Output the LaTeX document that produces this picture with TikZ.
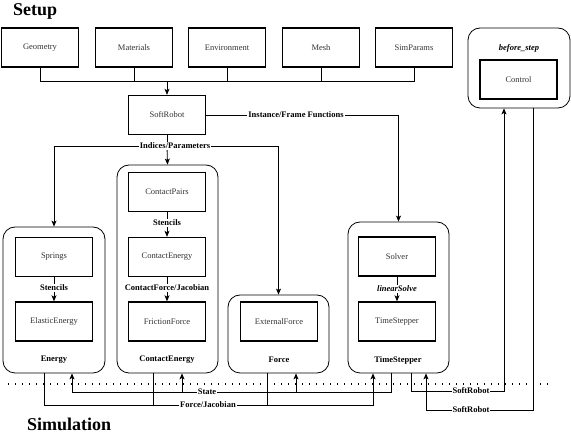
\documentclass[tikz,border=0pt]{standalone}
\usepackage{fontspec}
\setmainfont{Liberation Serif}
\usetikzlibrary{arrows.meta,positioning,calc}

\tikzset{
  block/.style={draw, line width=1.4pt, minimum width=77pt, minimum height=39pt, inner sep=0pt, text=black!80, font=\fontsize{8.5}{10}\selectfont},
  frame/.style={draw, line width=0.8pt, rounded corners=12pt, inner sep=0pt},
  tag/.style={font=\fontsize{8.5}{10}\selectfont\bfseries, inner sep=1pt},
  wire/.style={line width=0.8pt},
  title/.style={font=\fontsize{18}{20}\selectfont\bfseries, anchor=base west, inner sep=0pt},
}

\begin{document}
\begin{tikzpicture}[x=1pt, y=-1pt, >={Stealth[length=6pt,width=5pt,inset=1.5pt]}]
\useasboundingbox (0,0) rectangle (571,435);

% titles
\node[title] (setup) at (13,16) {Setup};
\node[title] (sim) at (27,431) {Simulation};

% setup row
\node[block] (geo) at (40,47.5) {Geometry};
\node[block] (mat) at (134,47.5) {Materials};
\node[block] (env) at (227,47.5) {Environment};
\node[block] (mesh) at (321,47.5) {Mesh};
\node[block] (simp) at (414,47.5) {SimParams};
\node[block] (robot) at (167,115) {SoftRobot};

% containers
\node[frame, minimum width=102pt, minimum height=146pt] (energy) at (54,300) {};
\node[frame, minimum width=101pt, minimum height=208pt] (contact) at (167.5,269) {};
\node[frame, minimum width=101pt, minimum height=78pt] (force) at (278.5,334) {};
\node[frame, minimum width=101pt, minimum height=151pt] (stepper) at (398.5,297.5) {};
\node[frame, minimum width=102pt, minimum height=80pt] (before) at (519,68) {};

% inside the containers
\node[block] (springs) at (54,257) {Springs};
\node[block] (elastic) at (54,321.5) {ElasticEnergy};
\node[tag] (energyL) at (54,360) {Energy};

\node[block] (pairs) at (167,192) {ContactPairs};
\node[block] (cenergy) at (167,257) {ContactEnergy};
\node[block] (friction) at (167,321.5) {FrictionForce};
\node[tag] (contactL) at (167,360) {ContactEnergy};

\node[block] (external) at (279,321.5) {ExternalForce};
\node[tag] (forceL) at (279,360) {Force};

\node[block] (solver) at (397,256.5) {Solver};
\node[block] (tstep) at (397,321.5) {TimeStepper};
\node[tag] (stepperL) at (398,360) {TimeStepper};

\node[tag] (beforeL) at (519,48) {\itshape before\_step};
\node[block] (control) at (518.5,79.5) {Control};

% setup -> SoftRobot
\coordinate (bus) at (167,81);
\foreach \n in {geo,mat,env,mesh,simp}
  \draw[wire] (\n.south) |- (bus);
\draw[wire,->] (bus) -- (robot.north);

% SoftRobot -> components
\draw[wire,->] (robot.east) -| (stepper.north);
\coordinate (ip) at (167,146);
\draw[wire] (robot.south) -- (ip);
\draw[wire,->] (ip) -- (contact.north);
\draw[wire,->] (ip) -| (energy.north);
\draw[wire,->] (ip) -| (force.north);
\node[tag, fill=white] (ifL) at (296,115) {Instance/Frame Functions};
\node[tag, fill=white] (ipL) at (175,146) {Indices/Parameters};

% inner arrows
\draw[wire,->] (springs) -- (elastic);
\draw[wire,->] (pairs) -- (cenergy);
\draw[wire,->] (cenergy) -- (friction);
\draw[wire,->] (solver) -- (tstep);
\node[tag, fill=white] (st1) at (54,288) {Stencils};
\node[tag, fill=white] (st2) at (167,223) {Stencils};
\node[tag, fill=white] (cfj) at (167,288) {ContactForce/Jacobian};
\node[tag, fill=white] (ls) at (397,289) {\itshape linearSolve};

% simulation loop
\coordinate (fjL) at (44,405);
\coordinate (fjR) at (373,405);
\draw[wire,->] (fjL |- energy.south) -- (fjL) -- (fjR) -- (fjR |- stepper.south);
\draw[wire] (153,0 |- contact.south) -- (153,405);
\draw[wire] (267,0 |- force.south) -- (267,405);

\coordinate (stR) at (391,392);
\coordinate (stL) at (72,392);
\draw[wire,->] (stR |- stepper.south) -- (stR) -- (stL) -- (stL |- energy.south);
\draw[wire,->] (182,392) -- (182,0 |- contact.south);
\draw[wire,->] (296,392) -- (296,0 |- force.south);

\coordinate (srA) at (411,391);
\coordinate (srB) at (504,391);
\draw[wire,->] (srA |- stepper.south) -- (srA) -- (srB) -- (srB |- before.south);
\coordinate (srC) at (533,410);
\coordinate (srD) at (426,410);
\draw[wire,->] (srC |- before.south) -- (srC) -- (srD) -- (srD |- stepper.south);

\node[tag, fill=white] (stateL) at (207,392) {State};
\node[tag, fill=white] (fjLbl) at (208,405) {Force/Jacobian};
\node[tag, fill=white] (sr1) at (471,391) {SoftRobot};
\node[tag, fill=white] (sr2) at (471,410) {SoftRobot};

% setup / simulation divider
\coordinate (divL) at (8,384);
\coordinate (divR) at (552,384);
\draw[line width=1.3pt, dash pattern=on 1.3pt off 5.7pt] (divL) -- (divR);
\end{tikzpicture}
\end{document}
